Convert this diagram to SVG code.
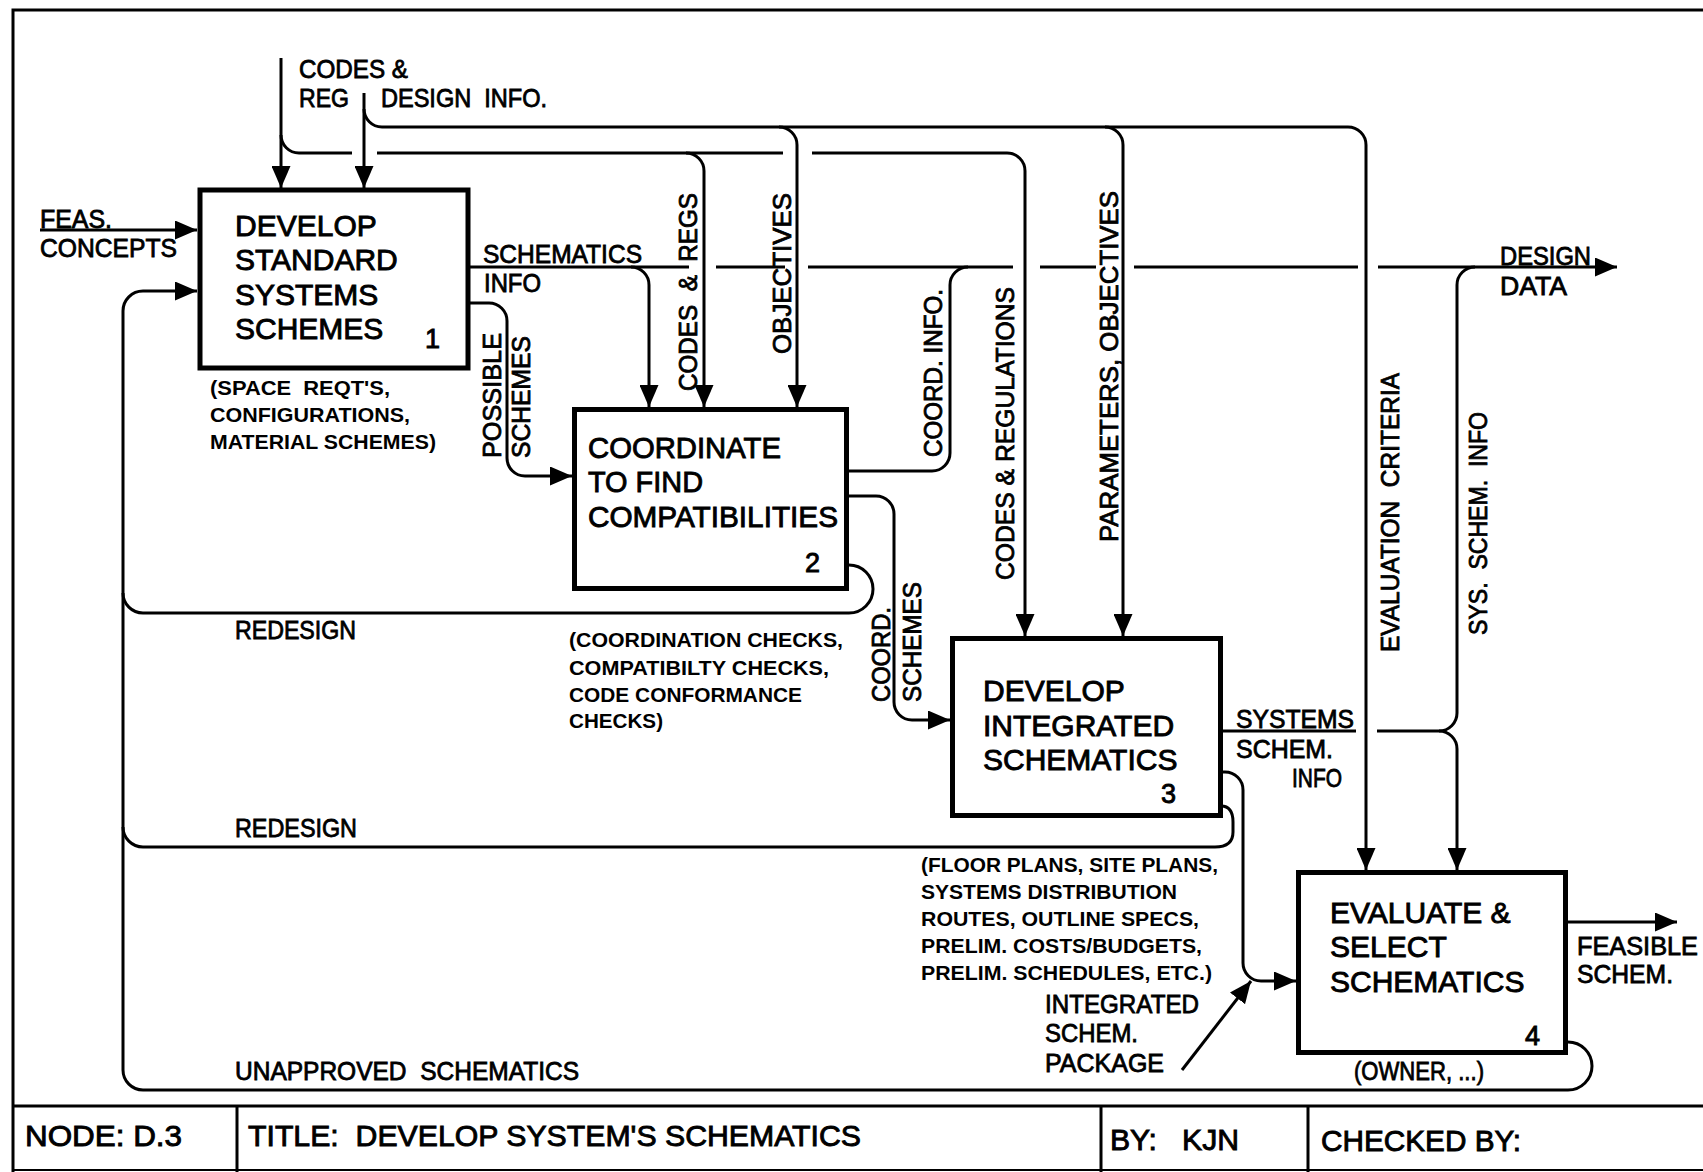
<svg xmlns="http://www.w3.org/2000/svg" width="1703" height="1172" viewBox="0 0 1703 1172">
  <defs>
    <style>
      .frame { fill: none; stroke: #000; stroke-width: 3; }
      .box { fill: none; stroke: #000; stroke-width: 5; }
      .ln { fill: none; stroke: #000; stroke-width: 3; }
      .arr { marker-end: url(#ah); }
      text { font-family: "Liberation Sans", Arial, Helvetica, sans-serif; fill: #000; }
      .bt { font-size: 30px; stroke: #000; stroke-width: 0.9; }
      .num { font-size: 27px; text-anchor: end; stroke: #000; stroke-width: 0.9; }
      .lb { font-size: 25px; stroke: #000; stroke-width: 0.8; }
      .nt { font-size: 21px; font-weight: bold; }
      .tb { font-size: 30px; stroke: #000; stroke-width: 0.9; }
    </style>
    <marker id="ah" viewBox="0 0 22 19" refX="22" refY="9.5" markerWidth="22" markerHeight="19" markerUnits="userSpaceOnUse" orient="auto">
      <path d="M0,0 L22,9.5 L0,19 z" fill="#000"/>
    </marker>
  </defs>
  <rect x="0" y="0" width="1703" height="1172" fill="#fff"/>

  <!-- sheet border and title block -->
  <g id="frame">
    <path class="frame" d="M13,1172 V10 H1703"/>
    <path class="frame" d="M13,1106 H1703"/>
    <path class="frame" d="M237,1106 V1172 M1101,1106 V1172 M1308,1106 V1172"/>
    <path fill="none" stroke="#000" stroke-width="2" d="M13,1170 H1703"/>
    <text class="tb" x="25" y="1146" textLength="157" lengthAdjust="spacingAndGlyphs">NODE: D.3</text>
    <text class="tb" x="248" y="1146" textLength="613" lengthAdjust="spacingAndGlyphs">TITLE:&#160; DEVELOP SYSTEM'S SCHEMATICS</text>
    <text class="tb" x="1110" y="1150" textLength="129" lengthAdjust="spacingAndGlyphs">BY:&#160;&#160; KJN</text>
    <text class="tb" x="1321" y="1151" textLength="200" lengthAdjust="spacingAndGlyphs">CHECKED BY:</text>
  </g>

  <!-- activity boxes -->
  <g id="node1">
    <rect class="box" x="200" y="190" width="268" height="178"/>
    <text class="bt" x="235" y="236">DEVELOP</text>
    <text class="bt" x="235" y="270">STANDARD</text>
    <text class="bt" x="235" y="305">SYSTEMS</text>
    <text class="bt" x="235" y="339">SCHEMES</text>
    <text class="num" x="440" y="348">1</text>
  </g>
  <g id="node2">
    <rect class="box" x="574.5" y="409.5" width="272" height="179"/>
    <text class="bt" x="588" y="458" textLength="193" lengthAdjust="spacingAndGlyphs">COORDINATE</text>
    <text class="bt" x="588" y="492" textLength="115" lengthAdjust="spacingAndGlyphs">TO FIND</text>
    <text class="bt" x="588" y="527" textLength="250" lengthAdjust="spacingAndGlyphs">COMPATIBILITIES</text>
    <text class="num" x="820" y="572">2</text>
  </g>
  <g id="node3">
    <rect class="box" x="952.5" y="638.5" width="268" height="177"/>
    <text class="bt" x="983" y="701">DEVELOP</text>
    <text class="bt" x="983" y="736">INTEGRATED</text>
    <text class="bt" x="983" y="770">SCHEMATICS</text>
    <text class="num" x="1176" y="803">3</text>
  </g>
  <g id="node4">
    <rect class="box" x="1298.5" y="872.5" width="267" height="180"/>
    <text class="bt" x="1330" y="923">EVALUATE &amp;</text>
    <text class="bt" x="1330" y="957">SELECT</text>
    <text class="bt" x="1330" y="992">SCHEMATICS</text>
    <text class="num" x="1540" y="1045">4</text>
  </g>

  <!-- arrows -->
  <g id="connectors">
    <!-- controls entering from the top -->
    <path class="ln arr" d="M281,58 V188"/>
    <path class="ln" d="M281,135 A18,18 0 0 0 299,153 H352 M377,153 H783 M812,153 H1007"/>
    <path class="ln arr" d="M1007,153 A18,18 0 0 1 1025,171 V636"/>
    <path class="ln arr" d="M686,153 A18,18 0 0 1 704,171 V407"/>
    <path class="ln arr" d="M364,93 V188"/>
    <path class="ln arr" d="M364,109 A18,18 0 0 0 382,127 H1348 A18,18 0 0 1 1366,145 V870"/>
    <path class="ln arr" d="M779,127 A18,18 0 0 1 797,145 V407"/>
    <path class="ln arr" d="M1105,127 A18,18 0 0 1 1123,145 V636"/>

    <!-- schematics info / design data bus -->
    <path class="ln" d="M470,267 H689 M716,267 H785 M808,267 H1013 M1040,267 H1096 M1134,267 H1358"/>
    <path class="ln arr" d="M1378,267 H1617"/>
    <path class="ln arr" d="M631,267 A18,18 0 0 1 649,285 V407"/>

    <!-- inputs -->
    <path class="ln arr" d="M40,230 H197"/>
    <path class="ln arr" d="M470,303 H489 A18,18 0 0 1 507,321 V458 A18,18 0 0 0 525,476 H572"/>
    <path class="ln arr" d="M849,496 H876 A18,18 0 0 1 894,514 V702 A18,18 0 0 0 912,720 H950"/>
    <path class="ln" d="M849,471 H932 A18,18 0 0 0 950,453 V285 A18,18 0 0 1 968,267"/>

    <!-- feedback loops -->
    <path class="ln arr" d="M123,1070 V311 A20,20 0 0 1 143,291 H197"/>
    <path class="ln" d="M849,565 A24,24 0 0 1 849,613 H143 A20,20 0 0 1 123,593"/>
    <path class="ln" d="M1221,806 Q1233,806 1233,822 V832 Q1233,847 1215,847 H143 A20,20 0 0 1 123,827"/>
    <path class="ln" d="M1568,1042 A24,24 0 0 1 1568,1090 H143 A20,20 0 0 1 123,1070"/>

    <!-- outputs of node 3 -->
    <path class="ln arr" d="M1223,772 H1225 A18,18 0 0 1 1243,790 V963 A18,18 0 0 0 1261,981 H1296"/>
    <path class="ln" d="M1223,731 H1356 M1377,731 H1439 A18,18 0 0 0 1457,713 V285 A18,18 0 0 1 1475,267"/>
    <path class="ln arr" d="M1439,731 A18,18 0 0 1 1457,749 V870"/>

    <!-- output of node 4 -->
    <path class="ln arr" d="M1568,922 H1677"/>

    <!-- label pointer -->
    <path class="ln arr" d="M1182,1070 L1251,981"/>
  </g>

  <!-- arrow labels -->
  <g id="labels">
    <text class="lb" x="299" y="78" textLength="109" lengthAdjust="spacingAndGlyphs">CODES &amp;</text>
    <text class="lb" x="299" y="107" textLength="50" lengthAdjust="spacingAndGlyphs">REG</text>
    <text class="lb" x="381" y="107" textLength="166" lengthAdjust="spacingAndGlyphs">DESIGN&#160; INFO.</text>
    <text class="lb" x="40" y="228" textLength="72" lengthAdjust="spacingAndGlyphs">FEAS.</text>
    <text class="lb" x="40" y="257" textLength="137" lengthAdjust="spacingAndGlyphs">CONCEPTS</text>
    <text class="lb" x="483" y="263" textLength="159" lengthAdjust="spacingAndGlyphs">SCHEMATICS</text>
    <text class="lb" x="484" y="292" textLength="57" lengthAdjust="spacingAndGlyphs">INFO</text>
    <text class="lb" x="1500" y="265" textLength="91" lengthAdjust="spacingAndGlyphs">DESIGN</text>
    <text class="lb" x="1500" y="295" textLength="67" lengthAdjust="spacingAndGlyphs">DATA</text>
    <text class="lb" x="1236" y="728" textLength="118" lengthAdjust="spacingAndGlyphs">SYSTEMS</text>
    <text class="lb" x="1236" y="758" textLength="97" lengthAdjust="spacingAndGlyphs">SCHEM.</text>
    <text class="lb" x="1292" y="787" textLength="50" lengthAdjust="spacingAndGlyphs">INFO</text>
    <text class="lb" x="235" y="639" textLength="121" lengthAdjust="spacingAndGlyphs">REDESIGN</text>
    <text class="lb" x="235" y="837" textLength="122" lengthAdjust="spacingAndGlyphs">REDESIGN</text>
    <text class="lb" x="235" y="1080" textLength="344" lengthAdjust="spacingAndGlyphs">UNAPPROVED&#160; SCHEMATICS</text>
    <text class="lb" x="1045" y="1013" textLength="154" lengthAdjust="spacingAndGlyphs">INTEGRATED</text>
    <text class="lb" x="1045" y="1042" textLength="93" lengthAdjust="spacingAndGlyphs">SCHEM.</text>
    <text class="lb" x="1045" y="1072" textLength="119" lengthAdjust="spacingAndGlyphs">PACKAGE</text>
    <text class="lb" x="1354" y="1080" textLength="130" lengthAdjust="spacingAndGlyphs">(OWNER, ...)</text>
    <text class="lb" x="1577" y="955" textLength="121" lengthAdjust="spacingAndGlyphs">FEASIBLE</text>
    <text class="lb" x="1577" y="983" textLength="96" lengthAdjust="spacingAndGlyphs">SCHEM.</text>

    <!-- vertical labels, reading upward -->
    <text class="lb" transform="translate(501,458) rotate(-90)" textLength="125" lengthAdjust="spacingAndGlyphs">POSSIBLE</text>
    <text class="lb" transform="translate(530,458) rotate(-90)" textLength="122" lengthAdjust="spacingAndGlyphs">SCHEMES</text>
    <text class="lb" transform="translate(697,391) rotate(-90)" textLength="198" lengthAdjust="spacingAndGlyphs">CODES&#160; &amp;&#160; REGS</text>
    <text class="lb" transform="translate(791,354) rotate(-90)" textLength="161" lengthAdjust="spacingAndGlyphs">OBJECTIVES</text>
    <text class="lb" transform="translate(942,457) rotate(-90)" textLength="168" lengthAdjust="spacingAndGlyphs">COORD. INFO.</text>
    <text class="lb" transform="translate(1014,580) rotate(-90)" textLength="293" lengthAdjust="spacingAndGlyphs">CODES &amp; REGULATIONS</text>
    <text class="lb" transform="translate(1118,542) rotate(-90)" textLength="351" lengthAdjust="spacingAndGlyphs">PARAMETERS, OBJECTIVES</text>
    <text class="lb" transform="translate(1399,652) rotate(-90)" textLength="279" lengthAdjust="spacingAndGlyphs">EVALUATION&#160; CRITERIA</text>
    <text class="lb" transform="translate(1487,635) rotate(-90)" textLength="223" lengthAdjust="spacingAndGlyphs">SYS.&#160; SCHEM.&#160; INFO</text>
    <text class="lb" transform="translate(890,702) rotate(-90)" textLength="95" lengthAdjust="spacingAndGlyphs">COORD.</text>
    <text class="lb" transform="translate(921,702) rotate(-90)" textLength="120" lengthAdjust="spacingAndGlyphs">SCHEMES</text>

    <!-- mechanism notes -->
    <text class="nt" x="210" y="395" textLength="180" lengthAdjust="spacingAndGlyphs">(SPACE&#160; REQT'S,</text>
    <text class="nt" x="210" y="422" textLength="200" lengthAdjust="spacingAndGlyphs">CONFIGURATIONS,</text>
    <text class="nt" x="210" y="449" textLength="226" lengthAdjust="spacingAndGlyphs">MATERIAL SCHEMES)</text>
    <text class="nt" x="569" y="647" textLength="274" lengthAdjust="spacingAndGlyphs">(COORDINATION CHECKS,</text>
    <text class="nt" x="569" y="675" textLength="260" lengthAdjust="spacingAndGlyphs">COMPATIBILTY CHECKS,</text>
    <text class="nt" x="569" y="702" textLength="233" lengthAdjust="spacingAndGlyphs">CODE CONFORMANCE</text>
    <text class="nt" x="569" y="728" textLength="94" lengthAdjust="spacingAndGlyphs">CHECKS)</text>
    <text class="nt" x="921" y="872" textLength="297" lengthAdjust="spacingAndGlyphs">(FLOOR PLANS, SITE PLANS,</text>
    <text class="nt" x="921" y="899" textLength="256" lengthAdjust="spacingAndGlyphs">SYSTEMS DISTRIBUTION</text>
    <text class="nt" x="921" y="926" textLength="278" lengthAdjust="spacingAndGlyphs">ROUTES, OUTLINE SPECS,</text>
    <text class="nt" x="921" y="953" textLength="281" lengthAdjust="spacingAndGlyphs">PRELIM. COSTS/BUDGETS,</text>
    <text class="nt" x="921" y="980" textLength="291" lengthAdjust="spacingAndGlyphs">PRELIM. SCHEDULES, ETC.)</text>
  </g>
</svg>
